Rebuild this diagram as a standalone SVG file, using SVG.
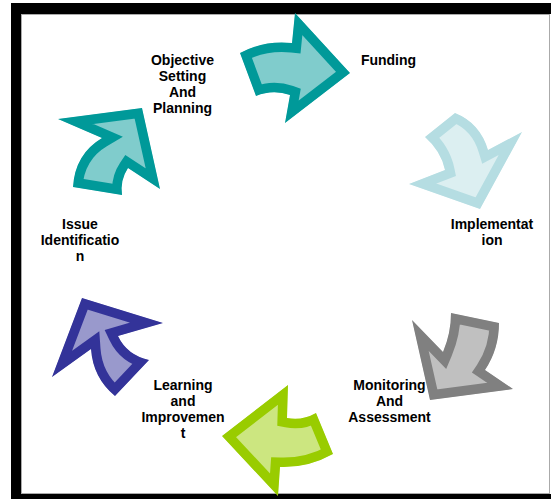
<svg xmlns="http://www.w3.org/2000/svg" xmlns:xlink="http://www.w3.org/1999/xlink" width="551" height="499" viewBox="0 0 551 499">
  <style>
    .label { font-family: "Liberation Sans", Arial, sans-serif; font-size: 14px; font-weight: bold; fill: #000; text-anchor: middle; }
    .arrow { stroke-width: 19; stroke-linejoin: miter; stroke-miterlimit: 10; }
    .teal { fill: #80CCCC; stroke: #009999; }
    .ice { fill: #DCEFF1; stroke: #B5DDE2; }
    .grey { fill: #C0C0C0; stroke: #808080; }
    .lime { fill: #CCE680; stroke: #99CC00; }
    .indigo { fill: #9999CC; stroke: #333399; }
  </style>
  <defs>
    <!-- curved block arrows of the cycle, outer outlines -->
    <path id="p-fund" d="M240,53 Q264,40 292,43 L295,13 L350,73 L285,123 L290,95 Q273,89 256,96 Z"/>
    <path id="p-impl" d="M425,137 L455,113 Q480,123 488,150 L522,132 L480,209 L409,184 L445,170 Q441,151 425,137 Z"/>
    <path id="p-moni" d="M451,313 L499,323 Q499,349 485,370 L513,389 L430,400 L412,320 L443,352 Q451,333 451,313 Z"/>
    <path id="p-lear" d="M316,413 L333,454 Q308,468 280,467 L278,496 L222,436 L288,385 L287,418 Q302,421 316,413 Z"/>
    <path id="p-issu" d="M115,396 Q93,378 91,349 L52,377 L82,298 L163,323 L118,336 Q127,355 149,360 Z"/>
    <path id="p-obje" d="M73,187 Q75,154 102,138 L58,119 L142,108 L160,189 L128,168 Q120,180 122,195 Z"/>
    <clipPath id="c-fund"><use xlink:href="#p-fund"/></clipPath>
    <clipPath id="c-impl"><use xlink:href="#p-impl"/></clipPath>
    <clipPath id="c-moni"><use xlink:href="#p-moni"/></clipPath>
    <clipPath id="c-lear"><use xlink:href="#p-lear"/></clipPath>
    <clipPath id="c-issu"><use xlink:href="#p-issu"/></clipPath>
    <clipPath id="c-obje"><use xlink:href="#p-obje"/></clipPath>
  </defs>

  <!-- page frame -->
  <rect x="0" y="0" width="551" height="499" fill="#FFFFFF"/>
  <rect x="11" y="3" width="540" height="496" fill="#000000"/>
  <rect x="550" y="14" width="1" height="480" fill="#FFFFFF"/>
  <rect x="21.5" y="14.5" width="528" height="479" fill="#FFFFFF" stroke="#AAAAAA" stroke-width="1"/>

  <!-- arrows linking the stages -->
  <g id="connectors">
    <use xlink:href="#p-obje" class="arrow teal" clip-path="url(#c-obje)"/>
    <use xlink:href="#p-fund" class="arrow teal" clip-path="url(#c-fund)"/>
    <use xlink:href="#p-impl" class="arrow ice" clip-path="url(#c-impl)"/>
    <use xlink:href="#p-moni" class="arrow grey" clip-path="url(#c-moni)"/>
    <use xlink:href="#p-lear" class="arrow lime" clip-path="url(#c-lear)"/>
    <use xlink:href="#p-issu" class="arrow indigo" clip-path="url(#c-issu)"/>
  </g>

  <!-- stage labels -->
  <g id="objective">
    <text class="label" x="182.5" y="65">Objective</text>
    <text class="label" x="182.5" y="81">Setting</text>
    <text class="label" x="182.5" y="97">And</text>
    <text class="label" x="182.5" y="113">Planning</text>
  </g>
  <g id="funding">
    <text class="label" x="388.5" y="65">Funding</text>
  </g>
  <g id="implementation">
    <text class="label" x="492" y="229">Implementat</text>
    <text class="label" x="492" y="245">ion</text>
  </g>
  <g id="monitoring">
    <text class="label" x="389.5" y="390">Monitoring</text>
    <text class="label" x="389.5" y="406">And</text>
    <text class="label" x="389.5" y="422">Assessment</text>
  </g>
  <g id="learning">
    <text class="label" x="183" y="390">Learning</text>
    <text class="label" x="183" y="406">and</text>
    <text class="label" x="183" y="422">Improvemen</text>
    <text class="label" x="183" y="438">t</text>
  </g>
  <g id="issue">
    <text class="label" x="80" y="229">Issue</text>
    <text class="label" x="80" y="245">Identificatio</text>
    <text class="label" x="80" y="261">n</text>
  </g>
</svg>
